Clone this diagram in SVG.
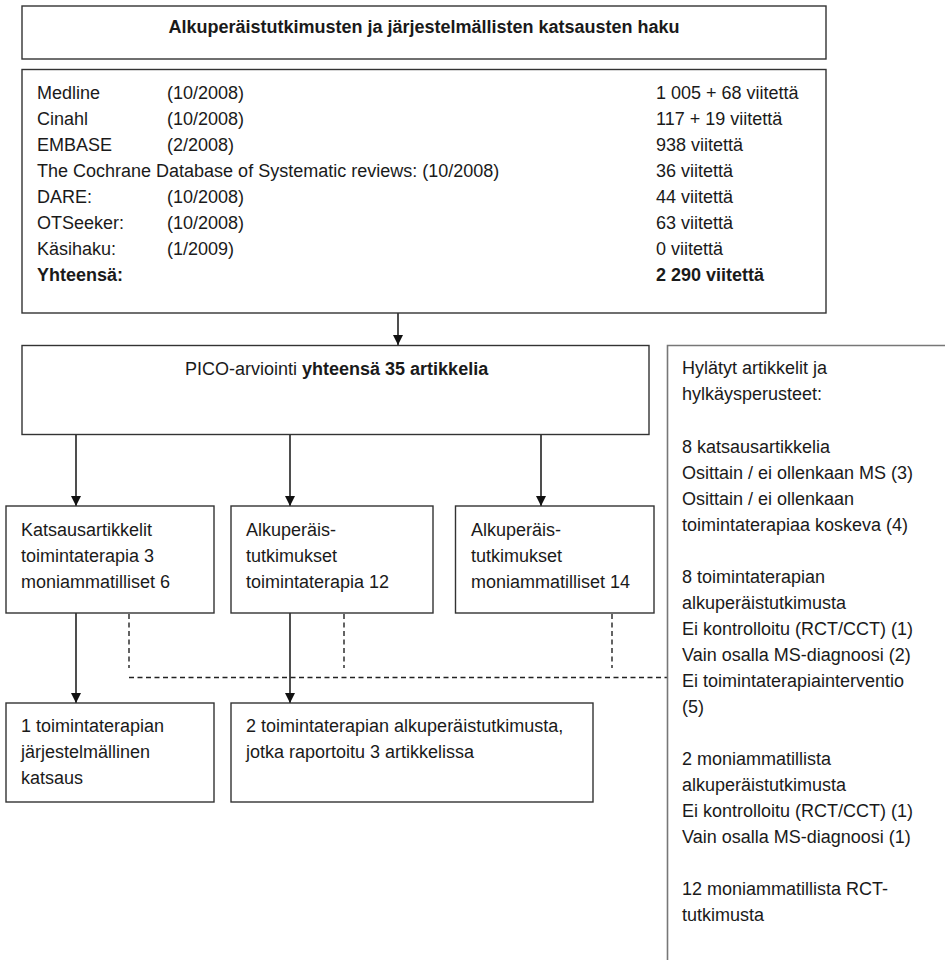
<svg xmlns="http://www.w3.org/2000/svg" width="945" height="960" viewBox="0 0 945 960">
  <style>
    .box { fill: #ffffff; stroke: #333333; stroke-width: 1.4; }
    .line { fill: none; stroke: #222222; stroke-width: 1.6; }
    .dash { fill: none; stroke: #222222; stroke-width: 1.4; stroke-dasharray: 5 3.5; }
    .open { fill: none; stroke: #777777; stroke-width: 1.6; }
    text { font-family: "Liberation Sans", Arial, sans-serif; font-size: 18px; fill: #1a1a1a; }
    .b { font-weight: bold; }
  </style>
  <defs>
    <marker id="arrow" viewBox="0 0 10 10" refX="10" refY="5" markerWidth="10" markerHeight="10" markerUnits="userSpaceOnUse" orient="auto">
      <path d="M0,0 L10,5 L0,10 Z" fill="#111111"/>
    </marker>
  </defs>
  <rect width="945" height="960" fill="#ffffff"/>

  <!-- connectors -->
  <g id="connectors">
    <line class="line" x1="398" y1="313" x2="398" y2="345" marker-end="url(#arrow)"/>
    <line class="line" x1="76" y1="434" x2="76" y2="506" marker-end="url(#arrow)"/>
    <line class="line" x1="290" y1="434" x2="290" y2="506" marker-end="url(#arrow)"/>
    <line class="line" x1="541" y1="434" x2="541" y2="506" marker-end="url(#arrow)"/>
    <line class="line" x1="76" y1="613" x2="76" y2="703" marker-end="url(#arrow)"/>
    <line class="line" x1="290" y1="613" x2="290" y2="703" marker-end="url(#arrow)"/>
    <path class="dash" d="M129,614 V668 M344,614 V668 M612,614 V668"/>
    <line class="dash" x1="129" y1="677.5" x2="667" y2="677.5"/>
  </g>

  <!-- search heading -->
  <g id="search-title">
    <rect class="box" x="22" y="6" width="804" height="53"/>
    <text class="b" x="424" y="33" text-anchor="middle">Alkuperäistutkimusten ja järjestelmällisten katsausten haku</text>
  </g>

  <!-- databases -->
  <g id="databases">
    <rect class="box" x="22" y="69.5" width="804" height="243.5"/>
    <text x="37" y="99">Medline</text><text x="167" y="99">(10/2008)</text><text x="656" y="99">1 005 + 68 viitettä</text>
    <text x="37" y="125">Cinahl</text><text x="167" y="125">(10/2008)</text><text x="656" y="125">117 + 19 viitettä</text>
    <text x="37" y="151">EMBASE</text><text x="167" y="151">(2/2008)</text><text x="656" y="151">938 viitettä</text>
    <text x="37" y="177">The Cochrane Database of Systematic reviews: (10/2008)</text><text x="656" y="177">36 viitettä</text>
    <text x="37" y="203">DARE:</text><text x="167" y="203">(10/2008)</text><text x="656" y="203">44 viitettä</text>
    <text x="37" y="229">OTSeeker:</text><text x="167" y="229">(10/2008)</text><text x="656" y="229">63 viitettä</text>
    <text x="37" y="255">Käsihaku:</text><text x="167" y="255">(1/2009)</text><text x="656" y="255">0 viitettä</text>
    <text class="b" x="37" y="281">Yhteensä:</text><text class="b" x="656" y="281">2 290 viitettä</text>
  </g>

  <!-- PICO assessment -->
  <g id="pico">
    <rect class="box" x="22" y="345.5" width="627" height="89"/>
    <text x="185" y="375">PICO-arviointi <tspan class="b">yhteensä 35 artikkelia</tspan></text>
  </g>

  <!-- rejected articles -->
  <g id="rejected">
    <path class="open" d="M945,345.5 H667.5 V960"/>
    <text x="682" y="374">Hylätyt artikkelit ja</text>
    <text x="682" y="400">hylkäysperusteet:</text>
    <text x="682" y="452.5">8 katsausartikkelia</text>
    <text x="682" y="478.5">Osittain / ei ollenkaan MS (3)</text>
    <text x="682" y="504.5">Osittain / ei ollenkaan</text>
    <text x="682" y="530.5">toimintaterapiaa koskeva (4)</text>
    <text x="682" y="582.5">8 toimintaterapian</text>
    <text x="682" y="608.5">alkuperäistutkimusta</text>
    <text x="682" y="634.5">Ei kontrolloitu (RCT/CCT) (1)</text>
    <text x="682" y="660.5">Vain osalla MS-diagnoosi (2)</text>
    <text x="682" y="686.5">Ei toimintaterapiainterventio</text>
    <text x="682" y="712.5">(5)</text>
    <text x="682" y="764.5">2 moniammatillista</text>
    <text x="682" y="790.5">alkuperäistutkimusta</text>
    <text x="682" y="816.5">Ei kontrolloitu (RCT/CCT) (1)</text>
    <text x="682" y="842.5">Vain osalla MS-diagnoosi (1)</text>
    <text x="682" y="894.5">12 moniammatillista RCT-</text>
    <text x="682" y="920.5">tutkimusta</text>
  </g>

  <!-- review articles -->
  <g id="reviews">
    <rect class="box" x="6" y="506" width="208" height="107"/>
    <text x="21" y="536">Katsausartikkelit</text>
    <text x="21" y="562">toimintaterapia 3</text>
    <text x="21" y="588">moniammatilliset 6</text>
  </g>

  <!-- original studies, occupational therapy -->
  <g id="original-ot">
    <rect class="box" x="231" y="506" width="202" height="107"/>
    <text x="246" y="536">Alkuperäis-</text>
    <text x="246" y="562">tutkimukset</text>
    <text x="246" y="588">toimintaterapia 12</text>
  </g>

  <!-- original studies, multiprofessional -->
  <g id="original-multi">
    <rect class="box" x="455.5" y="506" width="198.5" height="107"/>
    <text x="471" y="536">Alkuperäis-</text>
    <text x="471" y="562">tutkimukset</text>
    <text x="471" y="588">moniammatilliset 14</text>
  </g>

  <!-- included systematic review -->
  <g id="included-review">
    <rect class="box" x="6" y="703" width="208" height="99"/>
    <text x="21" y="732">1 toimintaterapian</text>
    <text x="21" y="758">järjestelmällinen</text>
    <text x="21" y="784">katsaus</text>
  </g>

  <!-- included original studies -->
  <g id="included-studies">
    <rect class="box" x="231" y="703" width="362" height="99"/>
    <text x="246" y="732">2 toimintaterapian alkuperäistutkimusta,</text>
    <text x="246" y="758">jotka raportoitu 3 artikkelissa</text>
  </g>
</svg>
